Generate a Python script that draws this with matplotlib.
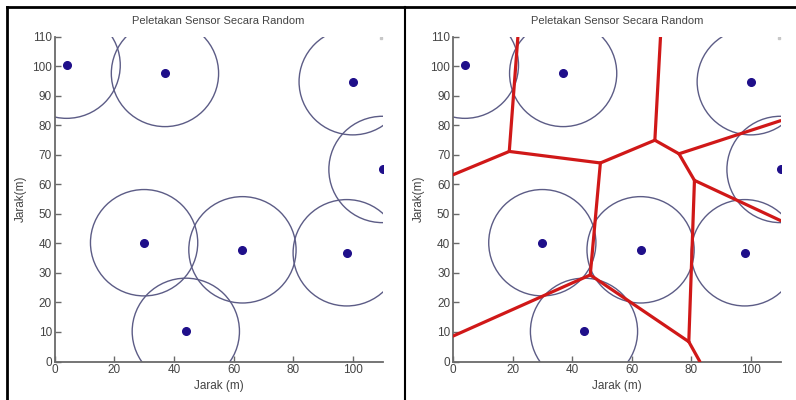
import numpy as np
import matplotlib
matplotlib.use("Agg")
import matplotlib.pyplot as plt
from matplotlib.lines import Line2D
from matplotlib.patches import Circle

plt.rcParams['font.family'] = ['Liberation Sans', 'DejaVu Sans']

# sensor positions (m)
sensor_x = [4, 37, 100, 110, 30, 63, 98, 44]
sensor_y = [100.3, 97.5, 94.7, 65, 40.2, 37.8, 36.8, 10.2]
sensor_range = 18

# Voronoi edges: (x0, y0, x1, y1)
edge_x0 = [21.8, 18.9, 18.9, 49.5, 49.5, 67.8, 67.8, 75.9, 75.9, 81.1, 81.1, 46.1, 46.1, 79.2]
edge_y0 = [110.0, 71.1, 71.1, 67.2, 67.2, 74.9, 74.9, 70.3, 70.3, 61.3, 61.3, 29.3, 29.3, 6.7]
edge_x1 = [18.9, 0.0, 49.5, 67.8, 46.1, 69.7, 75.9, 110.0, 81.1, 110.0, 79.2, 0.0, 79.2, 82.9]
edge_y1 = [71.1, 63.2, 67.2, 74.9, 29.3, 110.0, 70.3, 81.5, 61.3, 47.7, 6.7, 8.6, 6.7, 0.0]

title = "Peletakan Sensor Secara Random"
xticks = [0, 20, 40, 60, 80, 100]
yticks = [0, 10, 20, 30, 40, 50, 60, 70, 80, 90, 100, 110]

W, H = 796, 400
fig = plt.figure(figsize=(W / 100, H / 100), dpi=100)

axis_col = "#6a6a6a"
text_col = "#444444"


def setup(ax):
    ax.set_xlim(0, 110)
    ax.set_ylim(0, 110)
    for s in ("top", "right"):
        ax.spines[s].set_visible(False)
    for s in ("left", "bottom"):
        ax.spines[s].set_color(axis_col)
        ax.spines[s].set_linewidth(1.3)
    ax.set_xticks(xticks)
    ax.set_yticks(yticks)
    ax.tick_params(direction="in", length=4, width=1, colors=axis_col,
                   labelcolor=text_col, labelsize=8.5, pad=2)
    ax.set_title(title, fontsize=8, color=text_col, pad=9)
    ax.set_xlabel("Jarak (m)", fontsize=8.5, color=text_col, labelpad=3)
    ax.set_ylabel("Jarak(m)", fontsize=8.5, color=text_col, labelpad=4)
    for x, y in zip(sensor_x, sensor_y):
        ax.add_patch(Circle((x, y), sensor_range, fill=False,
                            edgecolor="#5c5c86", linewidth=1.0))
    ax.plot(sensor_x, sensor_y, "o", color="#1f0f8a", markersize=5.5, zorder=5)
    ax.plot([109.5], [109.5], "s", color="#c8c8c8", markersize=1.5)


ax1 = fig.add_axes([54.7 / W, (H - 361.5) / H, 327.8 / W, 325 / H])
setup(ax1)

ax2 = fig.add_axes([453 / W, (H - 361.5) / H, 327.5 / W, 325 / H])
setup(ax2)
for x0, y0, x1, y1 in zip(edge_x0, edge_y0, edge_x1, edge_y1):
    ax2.plot([x0, x1], [y0, y1], color="#d01818", linewidth=2.3,
             solid_capstyle="round", zorder=4)

# outer frame lines
fig.add_artist(Line2D([7 / W, 1], [1 - 7 / H, 1 - 7 / H], color="black", linewidth=2))
fig.add_artist(Line2D([7 / W, 7 / W], [0, 1 - 7 / H], color="black", linewidth=2))
fig.add_artist(Line2D([405 / W, 405 / W], [0, 1 - 7 / H], color="black", linewidth=1.5))

fig.savefig("out.png", dpi=100)
